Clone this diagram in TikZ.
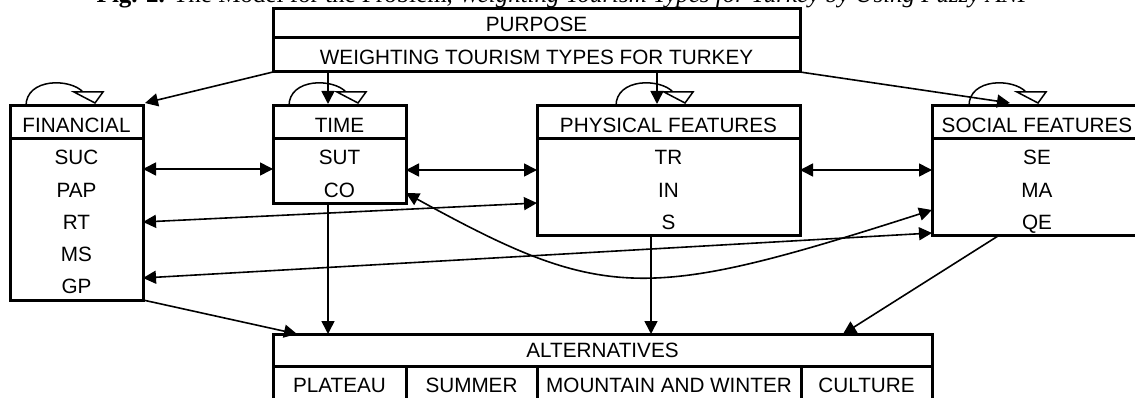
\documentclass[tikz,border=0pt]{standalone}
\usepackage{fontspec}
\setmainfont{Liberation Sans}
\newfontfamily\titlefont{Liberation Serif}
\usetikzlibrary{arrows.meta,calc}
\begin{document}
\begin{tikzpicture}[x=1pt,y=-1pt,
  box/.style={draw, line width=3pt, inner sep=0pt, outer sep=0pt, rectangle},
  divider/.style={line width=3pt},
  lbl/.style={font=\fontsize{20.7}{25}\selectfont, inner sep=0pt, text height=14.8pt, text depth=0pt, anchor=center},
  link/.style={line width=1.6pt, -{Triangle[length=13pt,width=13pt]}},
  dlink/.style={line width=1.6pt, {Triangle[length=13pt,width=13pt]}-{Triangle[length=13pt,width=13pt]}},
  selfloop/.style={line width=1.5pt},
  openhead/.style={line width=1.5pt, fill=white, line join=miter},
]
\useasboundingbox (0,0) rectangle (1135,398);

% title (cut by the page edge)
\node[font=\titlefont\fontsize{25}{30}\selectfont, anchor=base, inner sep=0pt] (title) at (565,3)
  {\textbf{Fig. 2.} The Model for the Problem, \textit{Weighting Tourism Types for Turkey by Using Fuzzy ANP}};

% boxes
\node[box, minimum width=527pt, minimum height=63pt] (purpose) at (536.5,40.5) {};
\node[box, minimum width=133pt, minimum height=194pt] (fin) at (76.5,203) {};
\node[box, minimum width=133pt, minimum height=98pt] (time) at (339.5,155) {};
\node[box, minimum width=263pt, minimum height=130pt] (phys) at (668.5,171) {};
\node[box, minimum width=210pt, minimum height=130pt] (soc) at (1037,171) {};
\node[box, minimum width=659pt, minimum height=66pt] (alt) at (602.5,367) {};

% dividers
\draw[divider] ([yshift=-29pt]purpose.north west) -- ([yshift=-29pt]purpose.north east);
\draw[divider] ([yshift=-33pt]fin.north west) -- ([yshift=-33pt]fin.north east);
\draw[divider] ([yshift=-33pt]time.north west) -- ([yshift=-33pt]time.north east);
\draw[divider] ([yshift=-33pt]phys.north west) -- ([yshift=-33pt]phys.north east);
\draw[divider] ([yshift=-33pt]soc.north west) -- ([yshift=-33pt]soc.north east);
\draw[divider] ([yshift=-32pt]alt.north west) -- ([yshift=-32pt]alt.north east);
\draw[divider] ([xshift=133pt,yshift=-32pt]alt.north west) -- ([xshift=133pt]alt.south west);
\draw[divider] ([xshift=264pt,yshift=-32pt]alt.north west) -- ([xshift=264pt]alt.south west);
\draw[divider] ([xshift=528pt,yshift=-32pt]alt.north west) -- ([xshift=528pt]alt.south west);

% texts
\node[lbl] (purposeT) at (536.5,24) {PURPOSE};
\node[lbl] (goalT) at (536.5,57) {WEIGHTING TOURISM TYPES FOR TURKEY};

\node[lbl] (finT) at (76.5,125) {FINANCIAL};
\node[lbl] (suc) at (76.5,157.5) {SUC};
\node[lbl] (pap) at (76.5,189.7) {PAP};
\node[lbl] (rt) at (76.5,221.9) {RT};
\node[lbl] (ms) at (76.5,254.1) {MS};
\node[lbl] (gp) at (76.5,286.3) {GP};

\node[lbl] (timeT) at (339.5,125) {TIME};
\node[lbl] (sut) at (339.5,157.5) {SUT};
\node[lbl] (co) at (339.5,189.7) {CO};

\node[lbl] (physT) at (668.5,125) {PHYSICAL FEATURES};
\node[lbl] (tr) at (668.5,157.5) {TR};
\node[lbl] (in) at (668.5,189.7) {IN};
\node[lbl] (s) at (668.5,221.9) {S};

\node[lbl] (socT) at (1037,125) {SOCIAL FEATURES};
\node[lbl] (se) at (1037,157.5) {SE};
\node[lbl] (ma) at (1037,189.7) {MA};
\node[lbl] (qe) at (1037,221.9) {QE};

\node[lbl] (altT) at (602.5,350.5) {ALTERNATIVES};
\node[lbl] (plateau) at (339.5,385) {PLATEAU};
\node[lbl] (summer) at (471.5,385) {SUMMER};
\node[lbl] (mountain) at (669,385) {MOUNTAIN AND WINTER};
\node[lbl] (culture) at (866.5,385) {CULTURE};

% self loops
\foreach \n/\s in {fin/16, time/16, phys/79, soc/37} {
  \draw[selfloop] ($(\n.north west)+(\s,0)$) .. controls +(0,-28) and +(-13,-14) .. ($(\n.north west)+(\s+57,-14)$);
  \draw[openhead] ($(\n.north west)+(\s+48,-14)$) -- ($(\n.north west)+(\s+77,-14)$) -- ($(\n.north west)+(\s+69,-3)$) -- cycle;
}

% purpose to criteria
\draw[link] (purpose.south west) -- ($(fin.north east)+(2,-3)$);
\draw[link] ($(purpose.south west)+(55,0)$) -- ($(time.north west)+(55,-2)$);
\draw[link] ($(purpose.south west)+(384,0)$) -- ($(phys.north west)+(120,-2)$);
\draw[link] (purpose.south east) -- ($(soc.north west)+(78,-3)$);

% interdependencies
\draw[dlink] ($(fin.north east)+(0,63)$) -- ($(time.north west)+(0,63)$);
\draw[dlink] ($(time.north east)+(0,64)$) -- ($(phys.north west)+(0,64)$);
\draw[dlink] ($(phys.north east)+(0,64)$) -- ($(soc.north west)+(0,64)$);
\draw[dlink] ($(fin.north east)+(0,116)$) -- ($(phys.north west)+(0,97)$);
\draw[dlink] ($(fin.north east)+(0,172)$) -- ($(soc.north west)+(0,127)$);
\draw[dlink] ($(time.north east)+(0,87)$) .. controls +(198,109) and +(-287,92) .. ($(soc.north west)+(0,104)$);

% criteria to alternatives
\draw[link] (fin.south east) -- ($(alt.north west)+(24,0)$);
\draw[link] ($(time.south west)+(55,0)$) -- ($(alt.north west)+(55,0)$);
\draw[link] ($(phys.south west)+(114,0)$) -- ($(alt.north west)+(378,0)$);
\draw[link] ($(soc.south west)+(66,0)$) -- ($(alt.north west)+(570,0)$);
\end{tikzpicture}
\end{document}
